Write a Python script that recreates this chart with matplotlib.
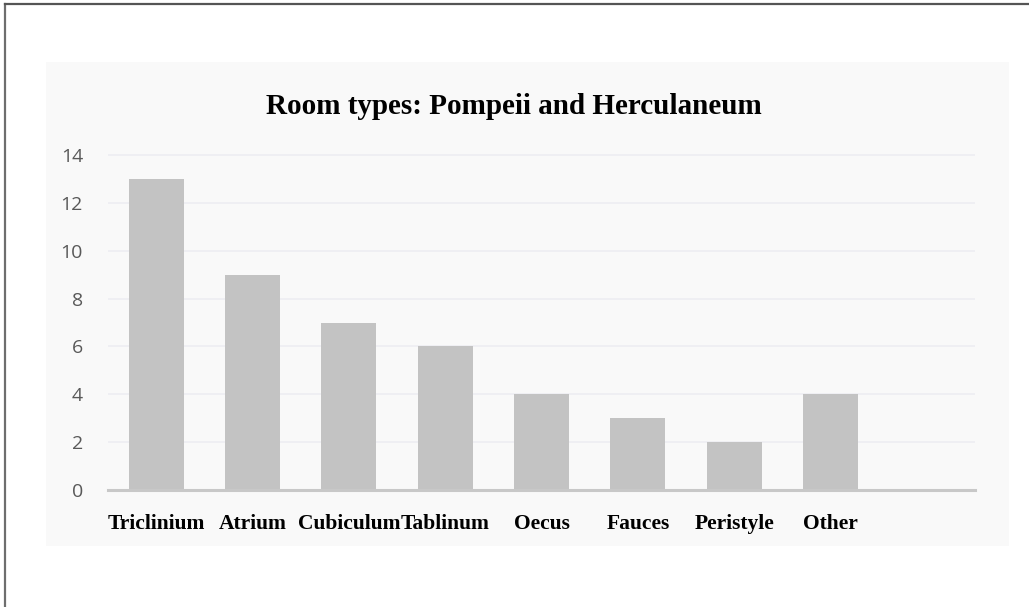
import matplotlib.pyplot as plt
from matplotlib.patches import Rectangle
from matplotlib.lines import Line2D

# room type counts
categories = ["Triclinium", "Atrium", "Cubiculum", "Tablinum", "Oecus",
              "Fauces", "Peristyle", "Other"]
counts = [13, 9, 7, 6, 4, 3, 2, 4]
yticks = [0, 2, 4, 6, 8, 10, 12, 14]
n_slots = 9  # one empty slot at the right end

W, H = 1029, 607
fig = plt.figure(figsize=(W / 100, H / 100), dpi=100)
fig.patch.set_facecolor("white")

# outer frame (top and left edges visible)
fig.add_artist(Line2D([5 / W, 5 / W], [0, 1 - 4 / H], color="#6e6e6e", lw=1.6))
fig.add_artist(Line2D([5 / W, 1], [1 - 4 / H, 1 - 4 / H], color="#555555", lw=1.6))

# light chart panel
fig.add_artist(Rectangle((46 / W, 1 - 546 / H), (1009 - 46) / W, (546 - 62) / H,
                         transform=fig.transFigure, facecolor="#f9f9f9",
                         edgecolor="none", zorder=0))

# axes placement: baseline y=490px, 14 at y=155px
ytop = 14.3
px_per_unit = (490 - 155) / 14
ax_h = px_per_unit * ytop
ax = fig.add_axes([108 / W, 1 - 490 / H, (975 - 108) / W, ax_h / H])
ax.set_facecolor("none")

x = list(range(len(categories)))
ax.bar(x, counts, width=0.57, color="#c3c3c3", zorder=2)
ax.axhline(0, color="#c8c8c8", lw=2.2, zorder=3, clip_on=False)

ax.set_xlim(-0.5, n_slots - 0.5)
ax.set_ylim(0, ytop)
ax.set_yticks(yticks)
ax.yaxis.grid(True, color="#eeeef2", lw=1.2, zorder=1)
ax.set_axisbelow(True)
for s in ax.spines.values():
    s.set_visible(False)

ax.tick_params(axis="y", length=0, pad=18, labelsize=14, labelcolor="#595959")
for lab in ax.get_yticklabels():
    lab.set_family("Open Sans")

ax.set_xticks(x)
ax.set_xticklabels(categories, family="Liberation Serif", fontweight="bold",
                   fontsize=15.5, color="black")
ax.tick_params(axis="x", length=0, pad=17)

fig.text(514 / W, 1 - 107 / H, "Room types: Pompeii and Herculaneum",
         ha="center", va="center", family="Liberation Serif",
         fontweight="bold", fontsize=21)

fig.savefig("out.png", dpi=100, facecolor="white")
